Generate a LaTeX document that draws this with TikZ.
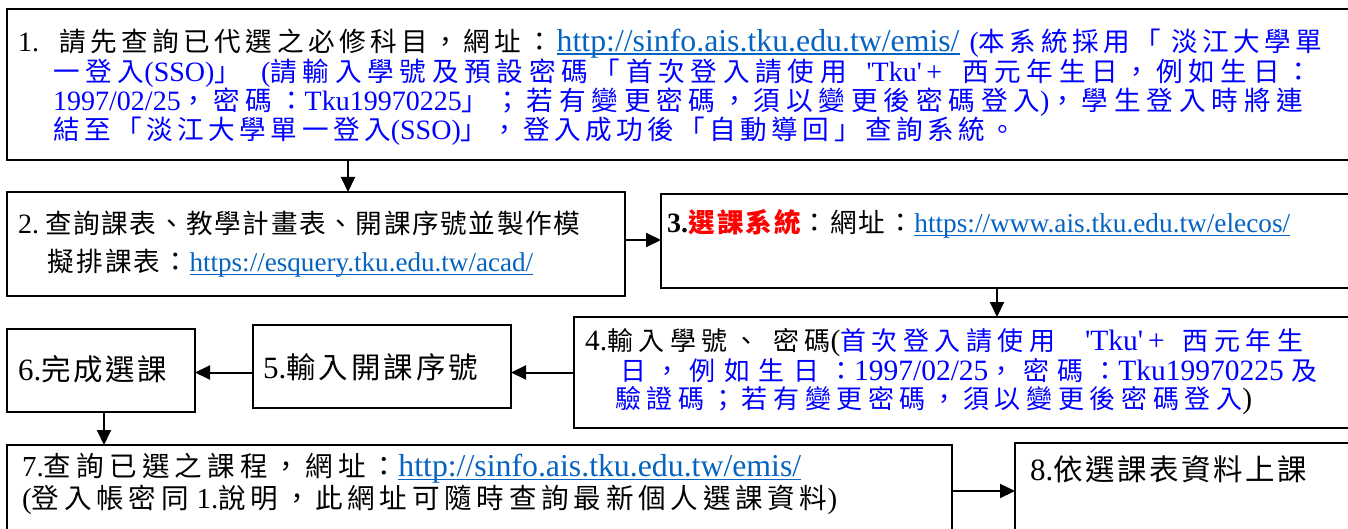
\documentclass[tikz,border=0pt]{standalone}
\usepackage{fontspec}
\usetikzlibrary{arrows.meta}
\setmainfont{Liberation Serif}
\newfontfamily\cjkfont[Scale=0.95]{Noto Sans CJK TC}
\newfontfamily\cjksmall[Scale=0.88]{Noto Sans CJK TC}
\definecolor{txtblue}{HTML}{0000FF}
\definecolor{linkblue}{HTML}{0563C1}
\definecolor{selred}{HTML}{FF0000}
% Han characters and full-width punctuation go to the CJK font
\XeTeXinterchartokenstate=1
\newXeTeXintercharclass\cjkcls
\newcommand\cjkrange[2]{\count255=#1\relax
  \loop\XeTeXcharclass\count255=\cjkcls\relax
  \ifnum\count255<#2\relax\advance\count255 by 1\relax\repeat}
\cjkrange{"3000}{"303F}
\cjkrange{"4E00}{"9FFF}
\cjkrange{"FF00}{"FFEF}
\def\cjkgap{}
\XeTeXinterchartoks 0 \cjkcls = {\cjkfont}
\XeTeXinterchartoks 4095 \cjkcls = {\cjkfont}
\XeTeXinterchartoks \cjkcls 0 = {\rmfamily}
\XeTeXinterchartoks \cjkcls 4095 = {\rmfamily}
\XeTeXinterchartoks 4095 0 = {\rmfamily}
\XeTeXinterchartoks \cjkcls \cjkcls = {\cjkgap}
% one line spread to a given width, the spare room goes between the Han characters
\newcommand\justline[3][0.5pt]{\makebox[#2][s]{\def\cjkgap{\hskip #1 plus 1fil}#3}}
\newsavebox\linkbox
\newcommand\weblink[2]{{\color{linkblue}\sbox\linkbox{\fontsize{#1}{#1}\selectfont\rmfamily #2}%
  \rlap{\rule[-3.5pt]{\wd\linkbox}{1.8pt}}\usebox\linkbox}}
\tikzstyle{box} = [rectangle, draw, line width=2.2pt, anchor=north west, inner sep=0pt, outer sep=0pt]
\tikzstyle{txt} = [inner sep=0pt, align=left, anchor=base west]
\tikzset{
	arr/.style={line width=2pt, -{Triangle[length=15pt,width=14pt]}},
	bigfont/.style={font=\fontsize{31}{33}\selectfont}
	}
\begin{document}
\begin{tikzpicture}[x=1pt,y=1pt]
	\useasboundingbox (0,0) rectangle (1348,-529);
	\clip (0,0) rectangle (1348,-529);
	% boxes
	\node [box, minimum width=1350pt, minimum height=151pt] (b1) at (7,-9) {};
	\node [box, minimum width=618pt, minimum height=104pt] (b2) at (7,-192) {};
	\node [box, minimum width=695pt, minimum height=94pt] (b3) at (661,-194) {};
	\node [box, minimum width=782pt, minimum height=111pt] (b4) at (574,-317) {};
	\node [box, minimum width=258pt, minimum height=83pt] (b5) at (253,-325) {};
	\node [box, minimum width=188pt, minimum height=83pt] (b6) at (7,-329) {};
	\node [box, minimum width=945pt, minimum height=100pt] (b7) at (7,-445) {};
	\node [box, minimum width=345pt, minimum height=100pt] (b8) at (1015,-443) {};
	% texts (a node with several lines sits on its last line)
	\node [txt, font=\fontsize{28}{29.3}\selectfont] (t1) at ([shift={(11pt,-131pt)}]b1.north west) {\justline{1304pt}{1.\hspace{20pt}請先查詢已代選之必修科目，網址：\hspace{4pt}\weblink{31.8}{http://sinfo.ais.tku.edu.tw/emis/}\hspace{10pt}\color{txtblue}(本系統採用「\hspace{10pt}淡江大學單}\\
		\hspace*{35pt}\color{txtblue}\justline{1259pt}{一登入(SSO)」\hspace{20pt}(請輸入學號及預設密碼「首次登入請使用\hspace{20pt}\textquotesingle Tku\textquotesingle\,+\hspace{20pt}西元年生日，例如生日：}\\
		\hspace*{35pt}\color{txtblue}\justline{1250pt}{1997/02/25，密碼：Tku19970225」；若有變更密碼，須以變更後密碼登入)，學生登入時將連}\\
		\hspace*{35pt}\color{txtblue}\justline{963pt}{結至「淡江大學單一登入(SSO)」，登入成功後「自動導回」查詢系統。}};
	\node [txt, font=\fontsize{28}{39}\selectfont] (t2) at ([shift={(11pt,-80pt)}]b2.north west) {\justline{562pt}{2.\hspace{6pt}查詢課表、教學計畫表、開課序號並製作模}\\
		\hspace*{29pt}\justline{486pt}{擬排課表：\weblink{27.1}{https://esquery.tku.edu.tw/acad/}}};
	\node [txt, font=\fontsize{28}{29}\selectfont] (t3) at ([shift={(6pt,-39pt)}]b3.north west) {\justline{623pt}{\bfseries 3.\color{selred}選課系統\mdseries\color{black}：網址：\weblink{27.3}{https://www.ais.tku.edu.tw/elecos/}}};
	\node [txt, font=\fontsize{29.5}{28}\selectfont\let\cjkfont\cjksmall] (t4) at ([shift={(11pt,-91pt)}]b4.north west) {\justline{718pt}{4.輸入學號、\hspace{14pt}密碼(\color{txtblue}首次登入請使用\hspace{30pt}\textquotesingle Tku\textquotesingle\,+\hspace{18pt}西元年生}\\
		\hspace*{35pt}\color{txtblue}\justline{697pt}{日，例如生日：1997/02/25，密碼：Tku19970225 及}\\
		\hspace*{30pt}\color{txtblue}\justline{637pt}{驗證碼；若有變更密碼，須以變更後密碼登入\color{black})}};
	\node [txt, bigfont] (t5) at ([shift={(10pt,-53pt)}]b5.north west) {\justline{215pt}{5.輸入開課序號}};
	\node [txt, bigfont] (t6) at ([shift={(11pt,-51pt)}]b6.north west) {\justline{149pt}{6.完成選課}};
	\node [txt, font=\fontsize{29}{28}\selectfont] (t7) at ([shift={(15pt,-63pt)}]b7.north west) {\justline{779pt}{7.查詢已選之課程，網址：\weblink{31.8}{http://sinfo.ais.tku.edu.tw/emis/}}\\
		\justline{815pt}{(登入帳密同\hspace{8pt}1.說明，此網址可隨時查詢最新個人選課資料)}};
	\node [txt, bigfont] (t8) at ([shift={(15pt,-37pt)}]b8.north west) {\justline{277pt}{8.依選課表資料上課}};
	% arrows
	\draw [arr] ([xshift=341pt]b1.south west) -- ([xshift=341pt]b1.south west |- b2.north);
	\draw [arr] ([yshift=4pt]b2.east) -- ([yshift=4pt]b2.east -| b3.west);
	\draw [arr] ([xshift=336pt]b3.south west) -- ([xshift=336pt]b3.south west |- b4.north);
	\draw [arr] (b4.west) -- (b4.west -| b5.east);
	\draw [arr] (b4.west -| b5.west) -- (b4.west -| b6.east);
	\draw [arr] ([xshift=97pt]b6.south west) -- ([xshift=97pt]b6.south west |- b7.north);
	\draw [arr] ([yshift=-46pt]b7.north east) -- ([yshift=-46pt]b7.north east -| b8.west);
\end{tikzpicture}
\end{document}
